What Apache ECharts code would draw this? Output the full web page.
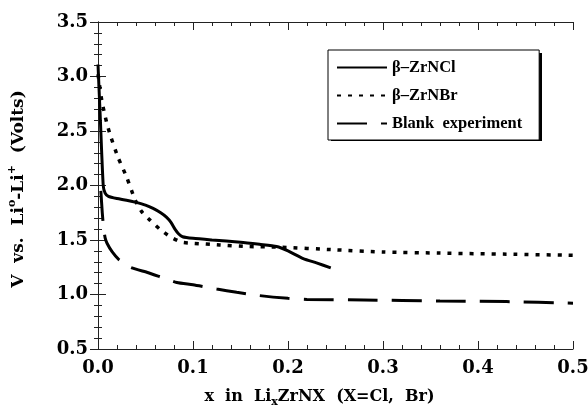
<!DOCTYPE html>
<html><head><meta charset="utf-8">
<script src="https://cdn.jsdelivr.net/npm/echarts@6/dist/echarts.min.js"></script>
<style>html,body{margin:0;padding:0;background:#fff}#c{width:588px;height:411px}</style>
</head><body><div id="c"></div>
<script>
// Data
const zrnclX = [0, 0.0025, 0.0055, 0.0075, 0.011, 0.02, 0.03, 0.04, 0.05, 0.058, 0.066, 0.072, 0.077, 0.081, 0.085, 0.089, 0.1, 0.12, 0.15, 0.17, 0.188, 0.2, 0.216, 0.23, 0.245];
const zrnclY = [3.11, 2.6, 2.0, 1.93, 1.90, 1.88, 1.865, 1.845, 1.82, 1.79, 1.75, 1.71, 1.66, 1.60, 1.555, 1.53, 1.515, 1.50, 1.48, 1.46, 1.44, 1.40, 1.33, 1.29, 1.245];
const zrnbrX = [0, 0.004, 0.009, 0.013, 0.021, 0.03, 0.039, 0.046, 0.055, 0.065, 0.076, 0.088, 0.1, 0.128, 0.157, 0.19, 0.25, 0.3, 0.36, 0.43, 0.5];
const zrnbrY = [3.02, 2.78, 2.58, 2.46, 2.26, 2.08, 1.87, 1.76, 1.68, 1.60, 1.53, 1.48, 1.47, 1.455, 1.44, 1.435, 1.41, 1.39, 1.38, 1.37, 1.36];
const blankX = [0.003, 0.0045, 0.006, 0.0075, 0.0095, 0.015, 0.022, 0.034, 0.053, 0.083, 0.1, 0.125, 0.146, 0.17, 0.2, 0.22, 0.28, 0.36, 0.43, 0.5];
const blankY = [1.95, 1.75, 1.60, 1.52, 1.47, 1.39, 1.32, 1.25, 1.20, 1.11, 1.09, 1.05, 1.02, 0.99, 0.965, 0.955, 0.95, 0.94, 0.935, 0.92];
const seriesNames = ['β–ZrNCl', 'β–ZrNBr', 'Blank  experiment'];
const xTicks = [0, 0.1, 0.2, 0.3, 0.4, 0.5];
const yTicks = [0.5, 1.0, 1.5, 2.0, 2.5, 3.0, 3.5];

const pair = (xs, ys) => xs.map((x, i) => [x, ys[i]]);
const FONT = '"Liberation Serif", "DejaVu Serif", serif';
const LFONT = '"DejaVu Serif", serif';
const axisLine = () => ({show: true, lineStyle: {color: '#222', width: 1}});
const tick = () => ({show: true, inside: true, length: 8, lineStyle: {color: '#222', width: 1}});
const minor = () => ({show: true, splitNumber: 5, length: 4, lineStyle: {color: '#222', width: 1}});

const chart = echarts.init(document.getElementById('c'), null, {renderer: 'canvas'});
chart.setOption({
  animation: false,
  backgroundColor: '#fff',
  grid: {left: 98, right: 15, top: 22, bottom: 62, outerBoundsMode: 'none', containLabel: false},
  graphic: [{type: 'rect', left: 331, top: 53, shape: {width: 211, height: 88}, style: {fill: '#000'}, z: 1}],
  legend: {
    orient: 'vertical', left: 328, top: 50, z: 10,
    padding: [9, 17, 8, 8], itemGap: 11, itemWidth: 50, itemHeight: 14,
    backgroundColor: '#fff', borderColor: '#000', borderWidth: 1,
    itemStyle: {opacity: 0},
    textStyle: {fontFamily: FONT, fontWeight: 'bold', fontSize: 16.5, color: '#000'},
    data: seriesNames
  },
  xAxis: [{
    type: 'value', min: xTicks[0], max: xTicks[xTicks.length - 1], interval: 0.1,
    axisLine: axisLine(), axisTick: tick(), minorTick: minor(), splitLine: {show: false},
    axisLabel: {margin: 10, fontFamily: LFONT, fontWeight: 'bold', fontSize: 18, color: '#000',
      formatter: v => v.toFixed(1)},
    name: '{a|x  in  Li}{s|x}{a|ZrNX  (X=Cl,  Br)}', nameLocation: 'middle', nameGap: 37,
    nameTextStyle: {padding: [0, 32, 0, 0], rich: {
      a: {fontFamily: LFONT, fontWeight: 'bold', fontSize: 16, color: '#000', lineHeight: 22},
      s: {fontFamily: LFONT, fontWeight: 'bold', fontSize: 11, color: '#000', lineHeight: 10, verticalAlign: 'bottom'}
    }}
  }, {
    type: 'value', position: 'top', min: 0, max: 0.5, interval: 0.1,
    axisLine: axisLine(), axisTick: tick(), minorTick: minor(), splitLine: {show: false}, axisLabel: {show: false}
  }],
  yAxis: [{
    type: 'value', min: yTicks[0], max: yTicks[yTicks.length - 1], interval: 0.5,
    axisLine: axisLine(), axisTick: tick(), minorTick: minor(), splitLine: {show: false},
    axisLabel: {margin: 10, fontFamily: LFONT, fontWeight: 'bold', fontSize: 18, color: '#000',
      formatter: v => v.toFixed(1)},
    name: '{a|V  vs.  Li}{p|o}{a|-Li}{p|+}{a|  (Volts)}', nameLocation: 'middle', nameGap: 67, nameRotate: 90,
    nameTextStyle: {padding: [0, 7, 0, 0], rich: {
      a: {fontFamily: LFONT, fontWeight: 'bold', fontSize: 17, color: '#000', lineHeight: 24},
      p: {fontFamily: LFONT, fontWeight: 'bold', fontSize: 11, color: '#000', lineHeight: 10, verticalAlign: 'top'}
    }}
  }, {
    type: 'value', position: 'right', min: 0.5, max: 3.5, interval: 0.5,
    axisLine: axisLine(), axisTick: tick(), minorTick: minor(), splitLine: {show: false}, axisLabel: {show: false}
  }],
  series: [
    {name: seriesNames[0], type: 'line', data: pair(zrnclX, zrnclY), symbol: 'none', smooth: 0.2,
      lineStyle: {color: '#000', width: 3, type: 'solid'}, itemStyle: {color: '#000'}},
    {name: seriesNames[1], type: 'line', data: pair(zrnbrX, zrnbrY), symbol: 'none', smooth: 0.2,
      lineStyle: {color: '#000', width: 3.5, type: [4, 7]}, itemStyle: {color: '#000'}},
    {name: seriesNames[2], type: 'line', data: pair(blankX, blankY), symbol: 'none', smooth: 0.2,
      lineStyle: {color: '#000', width: 3, type: [30, 14]}, itemStyle: {color: '#000'}}
  ]
});
</script></body></html>
